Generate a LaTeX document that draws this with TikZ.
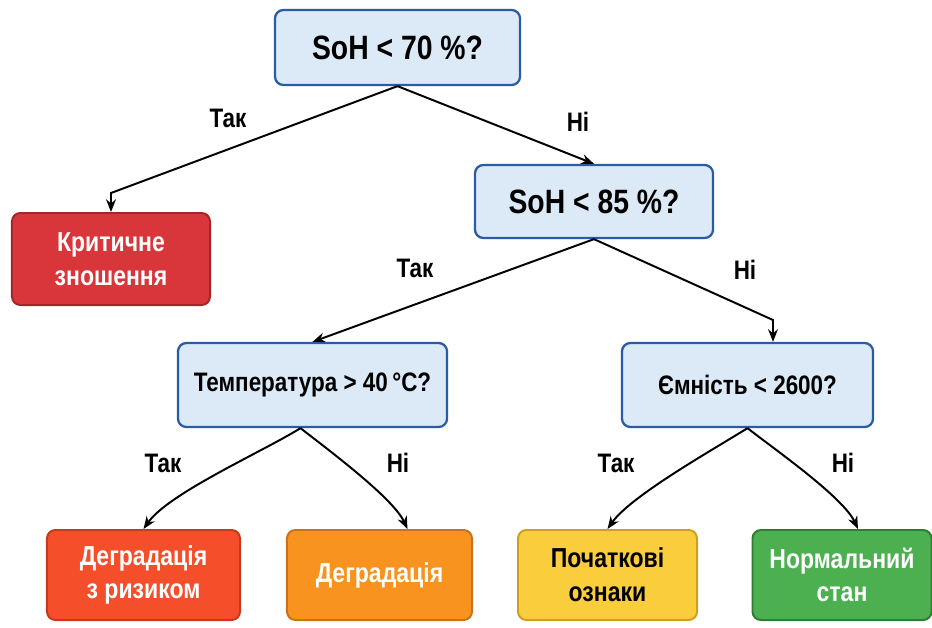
\documentclass[tikz,border=0pt]{standalone}
\usepackage{fontspec}
\setmainfont{Liberation Sans}[FakeStretch=0.84]
\usetikzlibrary{arrows.meta}

\definecolor{askfill}{HTML}{DCEAF8}
\definecolor{askline}{HTML}{2B5BA5}
\definecolor{critfill}{HTML}{D9363B}
\definecolor{critline}{HTML}{A3262A}
\definecolor{riskfill}{HTML}{F44E2A}
\definecolor{riskline}{HTML}{C43A1E}
\definecolor{degrfill}{HTML}{F7931E}
\definecolor{degrline}{HTML}{C8731A}
\definecolor{earlyfill}{HTML}{F9CD3B}
\definecolor{earlyline}{HTML}{CFA020}
\definecolor{okfill}{HTML}{4CAF50}
\definecolor{okline}{HTML}{2F7D33}

\tikzset{
  ask/.style={draw=askline, fill=askfill, line width=1.6pt, rounded corners=6pt,
    font=\bfseries\fontsize{24}{26}\selectfont, text=black},
  verdict/.style={line width=1.4pt, rounded corners=6pt, align=center,
    font=\bfseries\fontsize{19.5}{24}\selectfont, text=white},
  link/.style={draw=black, line width=1.4pt, -{Stealth[length=9pt,width=7pt]}},
  answer/.style={font=\bfseries\fontsize{19}{21}\selectfont}
}

\begin{document}
\begin{tikzpicture}[x=0.025cm, y=-0.025cm]
\useasboundingbox[fill=white] (0,0) rectangle (932,627);

% questions
\node[ask, minimum width=6.125cm, minimum height=1.875cm] (soh70) at (397.5,47.5) {SoH < 70 \%?};
\node[ask, minimum width=5.95cm, minimum height=1.825cm] (soh85) at (594,201.5) {SoH < 85 \%?};
\node[ask, minimum width=6.725cm, minimum height=2.1cm,
  font=\bfseries\fontsize{19}{22}\selectfont] (temp) at (312.5,385) {Температура > 40\,°C?};
\node[ask, minimum width=6.275cm, minimum height=2.1cm,
  font=\bfseries\fontsize{19}{22}\selectfont] (cap) at (747.5,385) {Ємність < 2600?};

% outcomes
\node[verdict, draw=critline, fill=critfill, minimum width=4.95cm, minimum height=2.3cm]
  (crit) at (111,259) {Критичне\\зношення};
\node[verdict, draw=riskline, fill=riskfill, minimum width=4.825cm, minimum height=2.25cm]
  (risk) at (143.5,575) {Деградація\\з ризиком};
\node[verdict, draw=degrline, fill=degrfill, minimum width=4.625cm, minimum height=2.25cm]
  (degr) at (379.5,575) {Деградація};
\node[verdict, draw=earlyline, fill=earlyfill, text=black, minimum width=4.475cm, minimum height=2.25cm]
  (early) at (607.5,575) {Початкові\\ознаки};
\node[verdict, draw=okline, fill=okfill, minimum width=4.475cm, minimum height=2.25cm]
  (normal) at (842,575) {Нормальний\\стан};

% connectors
\coordinate (critbend) at (111,193);
\coordinate (capbend) at (773,320);
\draw[link] (soh70.south) -- (critbend) -- (crit.north);
\draw[link] (soh70.south) -- (soh85.north);
\draw[link] (soh85.south) -- (temp.north);
\draw[link] (soh85.south) -- (capbend) -- (capbend |- cap.north);
\draw[link] ([xshift=-0.3cm]temp.south) to[out=-148, in=55, looseness=0.6] (risk.north);
\draw[link] ([xshift=-0.3cm]temp.south) to[out=-38, in=115, looseness=0.6] ([xshift=0.7cm]degr.north);
\draw[link] (cap.south) to[out=-148, in=55, looseness=0.6] (early.north);
\draw[link] (cap.south) to[out=-38, in=115, looseness=0.6] ([xshift=0.4cm]normal.north);

% answers
\node[answer] (yes70) at (228,118) {Так};
\node[answer] (no70) at (578,122) {Ні};
\node[answer] (yes85) at (415,268) {Так};
\node[answer] (no85) at (745,270) {Ні};
\node[answer] (yestemp) at (163,463) {Так};
\node[answer] (notemp) at (398,463) {Ні};
\node[answer] (yescap) at (616,463) {Так};
\node[answer] (nocap) at (843,463) {Ні};
\end{tikzpicture}
\end{document}
